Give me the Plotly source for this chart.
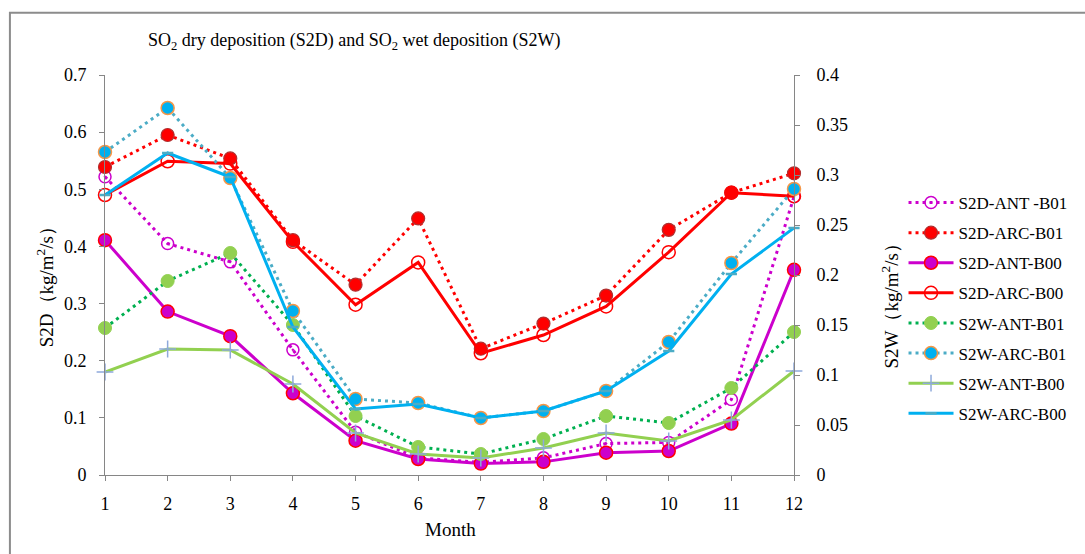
import plotly.graph_objects as go

months = list(range(1, 13))

# SO2 dry deposition (left axis)
s2d_ant_b01 = [0.522, 0.405, 0.373, 0.219, 0.075, 0.030, 0.022, 0.030, 0.055, 0.057, 0.132, 0.487]
s2d_arc_b01 = [0.539, 0.595, 0.554, 0.411, 0.333, 0.449, 0.221, 0.265, 0.314, 0.429, 0.494, 0.528]
s2d_ant_b00 = [0.411, 0.286, 0.243, 0.143, 0.060, 0.028, 0.020, 0.023, 0.039, 0.042, 0.090, 0.359]
s2d_arc_b00 = [0.490, 0.549, 0.545, 0.408, 0.298, 0.372, 0.213, 0.245, 0.295, 0.390, 0.494, 0.488]

# SO2 wet deposition (right axis)
s2w_ant_b01 = [0.147, 0.194, 0.222, 0.150, 0.059, 0.028, 0.021, 0.036, 0.059, 0.052, 0.087, 0.143]
s2w_arc_b01 = [0.323, 0.367, 0.297, 0.164, 0.076, 0.072, 0.057, 0.064, 0.084, 0.133, 0.212, 0.286]
s2w_ant_b00 = [0.103, 0.126, 0.125, 0.091, 0.042, 0.021, 0.017, 0.027, 0.042, 0.034, 0.055, 0.104]
s2w_arc_b00 = [0.280, 0.322, 0.298, 0.148, 0.066, 0.071, 0.057, 0.064, 0.084, 0.124, 0.201, 0.247]

SERIF = "Liberation Serif"
DOT = "3px,4px"

# plot area in pixels
L, R, T, B = 105, 797, 75, 475
W, H = 1085, 554


def px_x(px):
    return (px - L) / (R - L)


def px_y(py):
    return (B - py) / (B - T)


fig = go.Figure()


def add(name, y, axis, line, marker):
    fig.add_trace(go.Scatter(
        x=months, y=y, name=name, yaxis=axis, mode="lines+markers",
        line=line, marker=marker, cliponaxis=False, legendgroup=name,
    ))


add("S2D-ANT -B01", s2d_ant_b01, "y",
    dict(color="#CC00CC", width=3, dash=DOT),
    dict(symbol="circle-open-dot", size=12, color="#CC00CC", line=dict(width=1.5, color="#CC00CC")))
add("S2D-ARC-B01", s2d_arc_b01, "y",
    dict(color="#FF0000", width=3, dash=DOT),
    dict(symbol="circle", size=13, color="#FF0000", line=dict(width=1.2, color="#B03030")))
add("S2D-ANT-B00", s2d_ant_b00, "y",
    dict(color="#CC00CC", width=3),
    dict(symbol="circle", size=13, color="#CC00CC", line=dict(width=1.5, color="#FF0000")))
add("S2D-ARC-B00", s2d_arc_b00, "y",
    dict(color="#FF0000", width=3),
    dict(symbol="circle-open", size=13, color="#FF0000", line=dict(width=1.5, color="#FF0000")))
add("S2W-ANT-B01", s2w_ant_b01, "y2",
    dict(color="#00B050", width=3, dash=DOT),
    dict(symbol="circle", size=13, color="#92D050", line=dict(width=1, color="#92D050")))
add("S2W-ARC-B01", s2w_arc_b01, "y2",
    dict(color="#4BACC6", width=3, dash=DOT),
    dict(symbol="circle", size=13, color="#00B0F0", line=dict(width=1.5, color="#F79646")))
add("S2W-ANT-B00", s2w_ant_b00, "y2",
    dict(color="#92D050", width=3),
    dict(symbol="cross-thin", size=12, color="#8EA9DB", line=dict(width=1.5, color="#8EA9DB")))
add("S2W-ARC-B00", s2w_arc_b00, "y2",
    dict(color="#00B0F0", width=3),
    dict(symbol="line-ew", size=8, color="#4BACC6", line=dict(width=2.5, color="#4BACC6")))

axis_common = dict(
    showline=True, linecolor="#868686", linewidth=1,
    ticks="outside", ticklen=5, tickcolor="#868686", tickwidth=1,
    showgrid=False, zeroline=False,
    tickfont=dict(family=SERIF, size=18, color="#000000"),
)

fig.update_layout(
    width=W, height=H,
    margin=dict(l=L, r=W - R, t=T, b=H - B),
    paper_bgcolor="white", plot_bgcolor="white",
    font=dict(family=SERIF, color="#000000", size=18),
    showlegend=True,
    xaxis=dict(range=[1, 12], tickvals=months, ticklabelstandoff=7, **axis_common),
    yaxis=dict(range=[0, 0.7], dtick=0.1, ticklabelstandoff=9, **axis_common),
    yaxis2=dict(range=[0, 0.4], dtick=0.05, overlaying="y", side="right",
                ticklabelstandoff=13, **axis_common),
    legend=dict(
        x=px_x(907), y=px_y(185), xanchor="left", yanchor="top",
        font=dict(family=SERIF, size=17, color="#000000"),
        traceorder="grouped", tracegroupgap=5, itemwidth=45,
        bgcolor="rgba(0,0,0,0)",
    ),
    shapes=[dict(
        type="rect", xref="paper", yref="paper",
        x0=px_x(9.5), x1=px_x(1095), y0=px_y(12.7), y1=px_y(570),
        line=dict(color="#8C8C8C", width=2), layer="below",
    )],
    annotations=[
        dict(text="SO<sub>2</sub> dry deposition (S2D) and SO<sub>2</sub> wet deposition (S2W)",
             x=px_x(356), y=px_y(41), xanchor="center", yanchor="middle",
             font=dict(family=SERIF, size=18, color="#000000")),
        dict(text="Month", x=px_x(452), y=px_y(529), xanchor="center", yanchor="middle",
             font=dict(family=SERIF, size=19, color="#000000")),
        dict(text="S2D（kg/m<sup>2</sup>/s）", x=px_x(45), y=px_y(282), xanchor="center", yanchor="middle",
             textangle=-90, font=dict(family=SERIF, size=19, color="#000000")),
        dict(text="S2W（kg/m<sup>2</sup>/s）", x=px_x(893), y=px_y(302), xanchor="center", yanchor="middle",
             textangle=-90, font=dict(family=SERIF, size=19, color="#000000")),
    ],
)
for a in fig.layout.annotations:
    a.xref = "paper"
    a.yref = "paper"
    a.showarrow = False

fig.write_html("out.html")
